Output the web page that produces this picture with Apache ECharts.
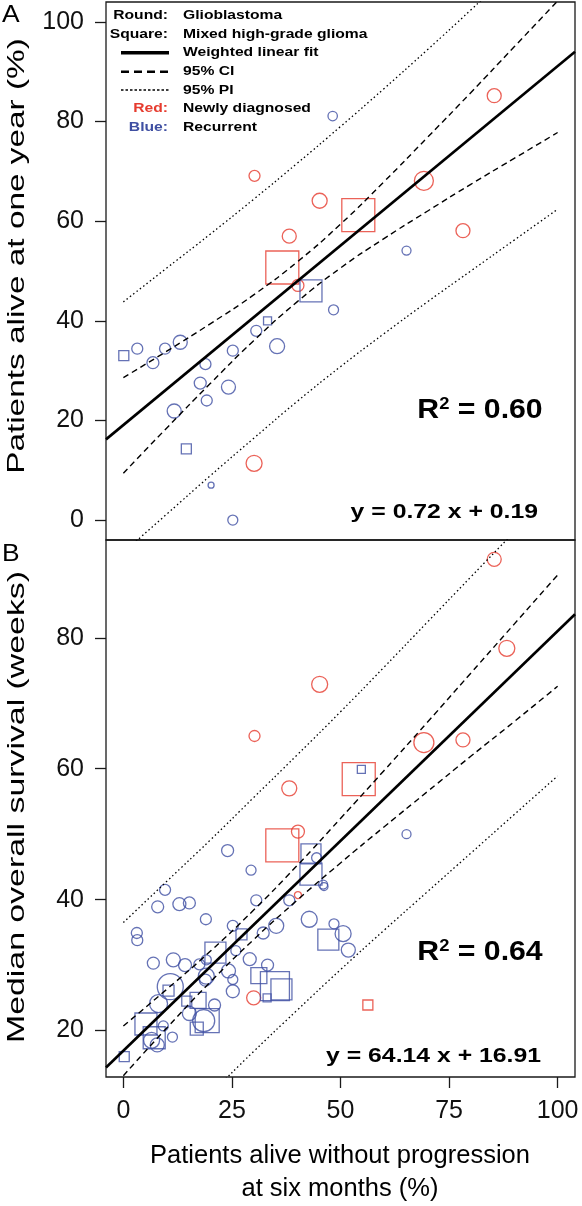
<!DOCTYPE html>
<html><head><meta charset="utf-8">
<script src="https://cdn.jsdelivr.net/npm/echarts@6/dist/echarts.min.js"></script>
<style>html,body{margin:0;padding:0;background:#fff}#c{width:582px;height:1206px}</style>
</head><body><div id="c"></div>
<script>
// ---------- DATA ----------
// Panel A: x = patients alive without progression at 6 months (%), y = patients alive at one year (%)
// w = study weight (marker half-size), status N = newly diagnosed, R = recurrent; type G = glioblastoma, M = mixed high-grade glioma
const aX = [30.2,45.2,38.2,85.4,69.2,78.2,40.2,30.1, 36.6,54.1,
  48.2,65.2,48.4,30.6,35.4,25.2,13.1,9.6,3.2,6.8,18.9,17.7,24.2,19.2,11.7,20.2,25.2,
  43.2,33.2,0.1,14.5];
const aY = [69.1,64.1,57.0,85.2,68.1,58.1,47.1,11.4, 50.7,61.2,
  81.1,54.1,42.2,38.0,34.9,34.0,35.7,34.4,34.4,31.6,31.3,27.5,26.7,24.0,21.9,7.0,0.0,
  46.0,40.0,33.0,14.3];
const aW = [5.5,7.5,7,7,9.5,7,6,8, 16.5,16.5,
  4.7,4.5,5,5.5,7.5,5.5,7,5.5,5.5,6,5.5,6,7,5.5,7,3,5,
  11,4,5,5];
const aStatus = 'NNNNNNNNNNRRRRRRRRRRRRRRRRRRRRR'.split('');
const aType   = 'GGGGGGGGMMGGGGGGGGGGGGGGGGGMMMM'.split('');

// Panel B: y = median overall survival (weeks)
const bX = [45.2,30.2,38.2,85.4,88.3,69.2,78.2,40.2,40.2,30.0,
  54.2,36.6,56.3,
  65.2,44.5,46.2,46.0,38.2,24.0,29.4,9.6,7.9,12.9,15.2,30.6,19.0,3.1,3.2,25.2,32.2,35.2,42.8,48.5,50.6,51.8,
  6.9,11.5,14.2,17.5,19.1,25.9,24.2,29.1,33.2,19.1,18.9,25.2,25.2,10.8,8.1,15.2,21.0,18.5,9.2,11.3,6.5,7.8,
  54.8,43.2,43.2,27.2,47.2,21.2,31.2,34.9,36.4,33.1,10.4,14.6,17.2,19.3,16.9,5.2,7.1,0.2];
const bY = [72.9,65.0,57.0,92.0,78.4,64.0,64.4,50.4,40.7,25.0,
  58.4,48.3,23.9,
  50.0,46.4,42.0,42.3,39.9,47.5,44.5,41.5,38.9,39.3,39.5,39.9,37.0,34.9,33.8,36.0,34.9,36.0,37.0,36.3,34.8,32.3,
  30.3,30.8,30.0,30.1,30.8,32.2,29.1,30.9,30.0,28.3,27.7,27.8,26.0,26.7,24.1,22.6,23.9,21.5,20.7,19.0,18.5,17.8,
  59.9,47.0,43.9,34.7,33.9,31.9,28.4,26.8,26.3,25.0,26.1,24.5,24.6,21.5,20.3,21.0,18.9,16.0];
const bW = [8,5.5,7.5,7,8,10,7,6.5,3.5,7,
  16.5,16.5,5,
  4.5,5,4,4.5,5.5,6,5,5.5,6,6.5,6,5.5,5.5,5.5,5.5,5.5,6,7.5,8,5,8,7,
  6,7,6.5,5.5,5,5,7,6.5,6,8,6,5,6.5,13,9,7,6,11,5,5,8,7,
  4,10,11,5.5,10.5,10.5,8,14.5,10.5,4,5.5,5,8,12,6.5,11,11,5];
const bStatus = ('N'.repeat(13) + 'R'.repeat(62)).split('');
const bType = ('G'.repeat(10) + 'MMM' + 'G'.repeat(44) + 'M'.repeat(18)).split('');

// Fitted lines (end points read at the plot borders) and bands (read at x = 0..100)
const fitX = [-4, 104];
const fitAY = [16.2, 94.0];
const fitBY = [14.35, 83.6];
const bandX = [0,10,20,30,40,50,60,70,80,90,100];
const ciAUp = [28.6,33.9,39.4,45.2,51.8,59.4,67.9,76.8,85.8,95.0,104.2];
const ciALo = [9.4,18.5,27.4,36.0,43.8,50.6,56.5,62.0,67.4,72.6,77.8];
const piAUp = [43.8,50.6,57.4,64.4,71.6,79.0,86.6,94.4,102.4,110.6,119.0];
const piALo = [-6.5,1.2,8.9,16.4,23.8,30.8,37.4,43.8,50.0,56.2,62.4];
const ciBUp = [20.7,26.3,32.1,38.4,45.2,52.4,59.7,67.1,74.6,82.1,89.6];
const ciBLo = [13.1,20.4,27.4,33.9,39.9,45.6,51.1,56.5,61.9,67.2,72.6];
const piBUp = [36.5,42.8,49.1,55.6,62.1,68.7,75.5,82.4,89.3,96.2,103.3];
const piBLo = [-2.7,3.8,10.3,16.8,23.1,29.3,35.3,41.2,47.1,53.0,58.9];

const xTicks = [0,25,50,75,100];
const yTicksA = [0,20,40,60,80,100];
const yTicksB = [20,40,60,80];

// ---------- CHART ----------
const RED = '#E63B2E', BLUE = '#3F4FA2', INK = '#1a1a1a';
const FONT = '"Liberation Sans", Arial, Helvetica, sans-serif';
const chart = echarts.init(document.getElementById('c'), null, {renderer: 'canvas'});

function pts(xs, ys, ws, st, ty, s, t) {
  const out = [];
  for (let i = 0; i < xs.length; i++) if (st[i] === s && ty[i] === t) out.push([xs[i], ys[i], ws[i]]);
  return out;
}
function zip(xs, ys) { return xs.map((x, i) => [x, ys[i]]); }

function scatter(idx, data, shape, color) {
  return {type: 'scatter', xAxisIndex: idx, yAxisIndex: idx, data: data,
    symbol: shape, symbolSize: v => 2 * v[2], silent: true, z: 3,
    itemStyle: {color: 'rgba(0,0,0,0)', borderColor: color, borderWidth: 1.3}};
}
function line(idx, data, width, dash, smooth) {
  return {type: 'line', xAxisIndex: idx, yAxisIndex: idx, data: data, symbol: 'none',
    smooth: smooth, clip: true, silent: true, z: 4,
    lineStyle: {color: '#000', width: width, type: dash}};
}

const series = [];
[[0, aX, aY, aW, aStatus, aType], [1, bX, bY, bW, bStatus, bType]].forEach(p => {
  const [i, xs, ys, ws, st, ty] = p;
  series.push(scatter(i, pts(xs, ys, ws, st, ty, 'N', 'G'), 'circle', RED));
  series.push(scatter(i, pts(xs, ys, ws, st, ty, 'N', 'M'), 'rect', RED));
  series.push(scatter(i, pts(xs, ys, ws, st, ty, 'R', 'G'), 'circle', BLUE));
  series.push(scatter(i, pts(xs, ys, ws, st, ty, 'R', 'M'), 'rect', BLUE));
});
series.push(line(0, zip(fitX, fitAY), 2.6, 'solid', false));
series.push(line(0, zip(bandX, ciAUp), 1.4, [6, 4], true));
series.push(line(0, zip(bandX, ciALo), 1.4, [6, 4], true));
series.push(line(0, zip(bandX, piAUp), 1.3, [1.5, 2.7], true));
series.push(line(0, zip(bandX, piALo), 1.3, [1.5, 2.7], true));
series.push(line(1, zip(fitX, fitBY), 2.6, 'solid', false));
series.push(line(1, zip(bandX, ciBUp), 1.4, [6, 4], true));
series.push(line(1, zip(bandX, ciBLo), 1.4, [6, 4], true));
series.push(line(1, zip(bandX, piBUp), 1.3, [1.5, 2.7], true));
series.push(line(1, zip(bandX, piBLo), 1.3, [1.5, 2.7], true));

const tickStyle = {color: INK, width: 1.3};
function yAxis(idx, min, max, ticks) {
  return {gridIndex: idx, type: 'value', min: min, max: max,
    axisLine: {show: false, onZero: false}, splitLine: {show: false},
    axisTick: {show: true, inside: false, length: 11, customValues: ticks, lineStyle: tickStyle},
    axisLabel: {customValues: ticks, fontSize: 25, color: '#111', margin: 22, fontFamily: FONT}};
}

const graphics = [];
function txt(x, y, text, o) {
  o = o || {};
  graphics.push({type: 'text', x: x, y: y, rotation: o.rot || 0, scaleX: o.sx || 1, z: 10, silent: true,
    style: {text: text, fill: o.color || '#000', fontSize: o.size || 15, fontWeight: o.weight || 'normal',
      fontFamily: FONT, align: o.align || 'left', verticalAlign: 'middle', rich: o.rich}});
}
// panel letters
txt(2, 15, 'A', {size: 24, sx: 1.1});
txt(2, 554, 'B', {size: 24, sx: 1.1});
// axis titles
txt(17, 256, 'Patients alive at one year (%)', {size: 24, rot: Math.PI / 2, align: 'center', sx: 1.39});
txt(17, 807, 'Median overall survival (weeks)', {size: 24, rot: Math.PI / 2, align: 'center', sx: 1.41});
txt(340, 1156, 'Patients alive without progression', {size: 25.5, align: 'center'});
txt(340, 1189, 'at six months (%)', {size: 25.5, align: 'center'});
// legend
const rows = [15, 34, 52.7, 71.7, 90, 108.3, 127.3];
const lg = {size: 13.5, weight: 'bold', sx: 1.16};
txt(168, rows[0], 'Round:', Object.assign({align: 'right'}, lg));
txt(168, rows[1], 'Square:', Object.assign({align: 'right'}, lg));
txt(168, rows[5], 'Red:', Object.assign({align: 'right', color: RED}, lg));
txt(168, rows[6], 'Blue:', Object.assign({align: 'right', color: BLUE}, lg));
['Glioblastoma', 'Mixed high-grade glioma', 'Weighted linear fit', '95% CI', '95% PI', 'Newly diagnosed', 'Recurrent']
  .forEach((t, i) => txt(183, rows[i], t, lg));
[[rows[2], 3.5, null], [rows[3], 2.4, [8, 5]], [rows[4], 1.4, [2.5, 2]]].forEach(r => {
  graphics.push({type: 'line', z: 10, silent: true, shape: {x1: 121, y1: r[0], x2: 169, y2: r[0]},
    style: {stroke: '#000', lineWidth: r[1], lineDash: r[2]}});
});
// statistics
const rich = {r: {fontSize: 28, fontWeight: 'bold', fontFamily: FONT},
  s: {fontSize: 17, fontWeight: 'bold', fontFamily: FONT, verticalAlign: 'top', padding: [0, 0, 12, 0]}};
txt(480, 410, '{r|R}{s|2}{r| = 0.60}', {align: 'center', rich: rich, sx: 1.08});
txt(480, 952, '{r|R}{s|2}{r| = 0.64}', {align: 'center', rich: rich, sx: 1.08});
txt(538, 512, 'y = 0.72 x + 0.19', {align: 'right', size: 21, weight: 'bold', sx: 1.18});
txt(541, 1056, 'y = 64.14 x + 16.91', {align: 'right', size: 21, weight: 'bold', sx: 1.18});

chart.setOption({
  animation: false,
  backgroundColor: '#fff',
  grid: [
    {left: 106, top: 2, width: 469, height: 538, show: true, borderColor: INK, borderWidth: 1.3, backgroundColor: 'rgba(0,0,0,0)'},
    {left: 106, top: 540, width: 469, height: 537, show: true, borderColor: INK, borderWidth: 1.3, backgroundColor: 'rgba(0,0,0,0)'}
  ],
  xAxis: [
    {gridIndex: 0, type: 'value', min: -4, max: 104, show: false},
    {gridIndex: 1, type: 'value', min: -4, max: 104, axisLine: {show: false, onZero: false}, splitLine: {show: false},
      axisTick: {show: true, inside: false, length: 11, customValues: xTicks, lineStyle: tickStyle},
      axisLabel: {customValues: xTicks, fontSize: 25, color: '#111', margin: 22, fontFamily: FONT}}
  ],
  yAxis: [yAxis(0, -4, 104, yTicksA), yAxis(1, 12.9, 94.95, yTicksB)],
  series: series,
  graphic: graphics
});
</script></body></html>
